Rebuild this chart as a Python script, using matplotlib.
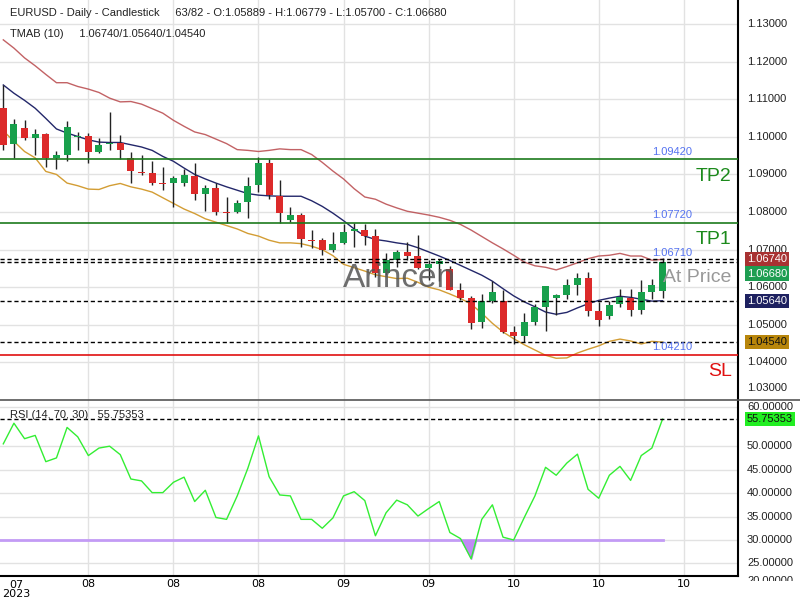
import matplotlib.pyplot as plt
import matplotlib.lines as mlines
import numpy as np

# candles, EURUSD daily
opens = [1.1078, 1.0980, 1.1024, 1.0998, 1.1008, 1.0945, 1.0953, 1.0999, 1.1003, 1.0961,
         1.0980, 1.0983, 1.0944, 1.0907, 1.0905, 1.0876, 1.0876, 1.0876, 1.0897, 1.0847,
         1.0865, 1.0799, 1.0800, 1.0826, 1.0871, 1.0931, 1.0843, 1.0778, 1.0793, 1.0725,
         1.0725, 1.0699, 1.0717, 1.0749, 1.0753, 1.0735, 1.0638, 1.0673, 1.0693, 1.0682,
         1.0650, 1.0662, 1.0649, 1.0593, 1.0570, 1.0507, 1.0563, 1.0564, 1.0480, 1.0471,
         1.0508, 1.0548, 1.0570, 1.0578, 1.0605, 1.0624, 1.0536, 1.0524, 1.0555, 1.0571,
         1.0540, 1.0588, 1.05889]
highs = [1.1138, 1.1048, 1.1045, 1.1021, 1.1010, 1.0963, 1.1043, 1.1014, 1.1010, 1.0997,
         1.1067, 1.1006, 1.0960, 1.0953, 1.0937, 1.0921, 1.0895, 1.0914, 1.0931, 1.0872,
         1.0878, 1.0841, 1.0831, 1.0894, 1.0946, 1.0941, 1.0884, 1.0813, 1.0798, 1.0751,
         1.0731, 1.0746, 1.0769, 1.0771, 1.0767, 1.0755, 1.0692, 1.0700, 1.0720, 1.0738,
         1.0672, 1.0676, 1.0656, 1.0610, 1.0576, 1.0581, 1.0616, 1.0592, 1.0496, 1.0532,
         1.0555, 1.0602, 1.0581, 1.0621, 1.0637, 1.0640, 1.0561, 1.0563, 1.0596, 1.0595,
         1.0618, 1.0621, 1.06779]
lows = [1.0966, 1.0945, 1.0992, 1.0953, 1.0919, 1.0915, 1.0936, 1.0966, 1.0930, 1.0957,
        1.0966, 1.0941, 1.0876, 1.0898, 1.0871, 1.0858, 1.0813, 1.0868, 1.0833, 1.0802,
        1.0792, 1.0770, 1.0797, 1.0784, 1.0853, 1.0834, 1.0772, 1.0773, 1.0706, 1.0703,
        1.0687, 1.0693, 1.0714, 1.0707, 1.0711, 1.0628, 1.0632, 1.0653, 1.0672, 1.0649,
        1.0618, 1.0617, 1.0593, 1.0565, 1.0489, 1.0491, 1.0557, 1.0479, 1.0449, 1.0455,
        1.0499, 1.0484, 1.0525, 1.0568, 1.0580, 1.0524, 1.0497, 1.0515, 1.0548, 1.0524,
        1.0529, 1.0568, 1.05700]
closes = [1.0979, 1.1035, 1.0998, 1.1008, 1.0945, 1.0952, 1.1027, 1.1003, 1.0961, 1.0979,
          1.0983, 1.0964, 1.0908, 1.0905, 1.0876, 1.0874, 1.0891, 1.0899, 1.0847, 1.0864,
          1.0800, 1.0797, 1.0825, 1.0870, 1.0931, 1.0844, 1.0797, 1.0792, 1.0728, 1.0723,
          1.0700, 1.0715, 1.0748, 1.0754, 1.0736, 1.0638, 1.0673, 1.0693, 1.0683, 1.0650,
          1.0661, 1.0670, 1.0593, 1.0570, 1.0505, 1.0563, 1.0586, 1.0481, 1.0471, 1.0507,
          1.0547, 1.0602, 1.0578, 1.0605, 1.0624, 1.0536, 1.0513, 1.0554, 1.0575, 1.0540,
          1.0586, 1.0605, 1.06680]

# TMA bands (10)
tma_upper = [1.1258, 1.1236, 1.1210, 1.1189, 1.1166, 1.1144, 1.1144, 1.1134, 1.1127, 1.1118,
             1.1103, 1.1093, 1.1094, 1.1087, 1.1075, 1.1063, 1.1044, 1.1028, 1.1013, 1.1006,
             1.0994, 1.0982, 1.0966, 1.0964, 1.0961, 1.0964, 1.0968, 1.0966, 1.0966, 1.0953,
             1.0932, 1.0909, 1.0888, 1.0862, 1.0840, 1.0834, 1.0821, 1.0811, 1.0802, 1.0797,
             1.0792, 1.0786, 1.0778, 1.0767, 1.0752, 1.0735, 1.0718, 1.0702, 1.0685, 1.0667,
             1.0657, 1.0653, 1.0646, 1.0655, 1.0665, 1.0676, 1.0683, 1.0685, 1.0690, 1.0683,
             1.0683, 1.0672, 1.0674]
tma_mid = [1.1138, 1.1116, 1.1097, 1.1076, 1.1049, 1.1021, 1.1010, 1.1001, 1.0992, 1.0986,
           1.0985, 1.0985, 1.0979, 1.0973, 1.0964, 1.0948, 1.0935, 1.0917, 1.0900, 1.0888,
           1.0877, 1.0867, 1.0858, 1.0849, 1.0845, 1.0843, 1.0842, 1.0842, 1.0842, 1.0830,
           1.0815, 1.0797, 1.0777, 1.0755, 1.0736, 1.0727, 1.0723, 1.0718, 1.0714, 1.0705,
           1.0694, 1.0683, 1.0671, 1.0658, 1.0645, 1.0632, 1.0616, 1.0596, 1.0577, 1.0561,
           1.0548, 1.0534, 1.0528, 1.0533, 1.0545, 1.0556, 1.0565, 1.0571, 1.0576, 1.0573,
           1.0568, 1.0563, 1.0564]
tma_lower = [1.1016, 1.0988, 1.0961, 1.0944, 1.0908, 1.0900, 1.0877, 1.0870, 1.0861, 1.0860,
             1.0870, 1.0876, 1.0867, 1.0861, 1.0853, 1.0838, 1.0823, 1.0808, 1.0796, 1.0782,
             1.0773, 1.0764, 1.0755, 1.0743, 1.0736, 1.0725, 1.0718, 1.0718, 1.0716, 1.0709,
             1.0700, 1.0684, 1.0661, 1.0652, 1.0643, 1.0633, 1.0628, 1.0623, 1.0624, 1.0613,
             1.0600, 1.0593, 1.0582, 1.0570, 1.0555, 1.0531, 1.0504, 1.0481, 1.0463, 1.0447,
             1.0433, 1.0419, 1.0411, 1.0412, 1.0425, 1.0435, 1.0444, 1.0456, 1.0462, 1.0457,
             1.0449, 1.0456, 1.0454]

rsi = [50.5, 54.9, 51.6, 52.3, 46.7, 47.5, 54.0, 52.0, 48.0, 49.6,
       50.0, 48.2, 43.0, 42.6, 40.1, 40.1, 42.3, 43.4, 38.2, 40.6,
       34.8, 34.4, 39.4, 45.3, 52.2, 43.5, 39.6, 39.4, 34.4, 34.4,
       32.5, 34.7, 39.4, 40.3, 38.4, 30.9, 35.8, 38.5, 37.5, 35.1,
       36.7, 38.2, 31.6, 30.3, 26.0, 34.4, 37.5, 30.6, 30.0, 34.8,
       39.4, 45.5, 43.8, 46.4, 48.3, 40.8, 38.9, 43.8, 45.7, 42.7,
       48.0, 49.6, 55.75353]

tick_pos = [8, 16, 24, 32, 40, 48, 56, 64]
tick_labels = ["08", "08", "08", "09", "09", "10", "10", "10"]
price_ticks = [1.04, 1.05, 1.06, 1.07, 1.08, 1.09, 1.10, 1.11, 1.12, 1.13]
rsi_ticks = [25, 30, 35, 40, 45, 50]

levels = {"TP2": 1.0942, "TP1": 1.0772, "At Price": 1.0671, "SL": 1.0421}

plt.rcParams['font.family'] = ['Liberation Sans', 'DejaVu Sans']

W, H = 800, 600
fig = plt.figure(figsize=(8, 6), dpi=100)
ax = fig.add_axes([0, 1 - 400 / H, 738 / W, 400 / H])
ax2 = fig.add_axes([0, 1 - 576 / H, 738 / W, 176 / H])

x = np.arange(len(closes))
xmin, xmax = -0.31, 69.1
GRID = '#e2e2e2'
GREEN = '#18a04c'
RED = '#dc2a2a'

# main panel
ax.set_xlim(xmin, xmax)
ax.set_ylim(1.0300, 1.1364)
for p in price_ticks:
    ax.axhline(p, color=GRID, lw=1, zorder=0)
for t in tick_pos:
    ax.axvline(t, color=GRID, lw=1, zorder=0)

o = np.array(opens); c = np.array(closes)
up = c >= o
ax.vlines(x, lows, highs, color='#222222', lw=1, zorder=3)
body = np.maximum(np.abs(c - o), 0.00025)
ax.bar(x, body, bottom=np.minimum(o, c), width=0.66,
       color=np.where(up, GREEN, RED), zorder=4)

ax.plot(x, tma_upper, color='#b8474a', lw=1, alpha=0.85, zorder=2)
ax.plot(x, tma_mid, color='#23276a', lw=1, zorder=2)
ax.plot(x, tma_lower, color='#d39d34', lw=1, zorder=2)

for v in [1.0674, 1.0668, 1.0564, 1.0454]:
    ax.axhline(v, color='black', lw=1, ls=(0, (3, 2)), zorder=5)

ax.axhline(levels["TP2"], color='#1c7a1c', lw=1.2, zorder=5)
ax.axhline(levels["TP1"], color='#1c7a1c', lw=1.2, zorder=5)
ax.axhline(levels["SL"], color='#e01010', lw=1.2, zorder=5)

for name, v in levels.items():
    ax.text(62.9, v + 0.0019, f"{v:.5f}", color='#5573f0', fontsize=8,
            ha='center', va='center', zorder=6)
ax.text(68.5, levels["TP2"] - 0.0047, "TP2", color='#1c8a1c', fontsize=14,
        ha='right', va='center', zorder=6)
ax.text(68.5, levels["TP1"] - 0.0044, "TP1", color='#1c8a1c', fontsize=14,
        ha='right', va='center', zorder=6)
ax.text(68.5, levels["At Price"] - 0.0045, "At Price", color='#999999', fontsize=14,
        ha='right', va='center', zorder=6)
ax.text(68.5, levels["SL"] - 0.0046, "SL", color='#e01010', fontsize=14,
        ha='right', va='center', zorder=6)

ax.text(37.3, 1.0624, "Arincen", color='#555555', alpha=0.85, fontsize=24,
        ha='center', va='center', zorder=7)

# price axis labels
ytr = ax.get_yaxis_transform()
lx = 747 / 738
for p in price_ticks:
    ax.text(lx, p, f"{p:.5f}", transform=ytr, fontsize=8, color='#222222',
            ha='left', va='center', clip_on=False)
ax.text(lx, 1.0332, "1.03000", transform=ytr, fontsize=8, color='#222222',
        ha='left', va='center', clip_on=False)

boxes = [(1.0675, "1.06740", '#a83232', 'white'),
         (1.0636, "1.06680", '#1e9e52', 'white'),
         (1.0564, "1.05640", '#1e2160', 'white'),
         (1.0454, "1.04540", '#b8860b', '#111111')]
for v, s, bg, fg in boxes:
    ax.text(lx, v, s, transform=ytr, fontsize=8, color=fg, ha='left', va='center',
            clip_on=False, zorder=10,
            bbox=dict(boxstyle='square,pad=0.2', fc=bg, ec='none'))

for s in ax.spines.values():
    s.set_visible(False)
ax.spines['right'].set_visible(True)
ax.spines['right'].set_color('black')
ax.spines['right'].set_linewidth(1.5)
ax.set_xticks([]); ax.set_yticks([])

fig.text(10 / W, 1 - 13 / H,
         "EURUSD - Daily - Candlestick     63/82 - O:1.05889 - H:1.06779 - L:1.05700 - C:1.06680",
         fontsize=8, color='#222222', va='center', ha='left')
fig.text(10 / W, 1 - 34 / H, "TMAB (10)     1.06740/1.05640/1.04540",
         fontsize=8, color='#222222', va='center', ha='left')

# RSI panel
ax2.set_xlim(xmin, xmax)
ax2.set_ylim(22.32, 59.85)
for rv in rsi_ticks + [58.3]:
    ax2.axhline(rv, color=GRID, lw=1, zorder=0)
for t in tick_pos:
    ax2.axvline(t, color=GRID, lw=1, zorder=0)

r = np.array(rsi)
ax2.plot([xmin, x[-1]], [30, 30], color='#c39bf5', lw=2, zorder=2)
ax2.fill_between(x, r, 30, where=r < 30, interpolate=True, color='#c08af5', zorder=2)
ax2.plot(x, r, color='#33ee33', lw=1, zorder=3)
ax2.axhline(rsi[-1], color='black', lw=1, ls=(0, (3, 2)), zorder=4)

fig.text(10 / W, 1 - 415 / H, "RSI (14, 70, 30)   55.75353", fontsize=8,
         color='#222222', va='center', ha='left')

ytr2 = ax2.get_yaxis_transform()
for rv in rsi_ticks:
    ax2.text(lx, rv, f"{rv:.5f}", transform=ytr2, fontsize=8, color='#222222',
             ha='left', va='center', clip_on=False)
ax2.text(lx, 58.3, "60.00000", transform=ytr2, fontsize=8, color='#222222',
         ha='left', va='center', clip_on=False)
ax2.text(lx, 55.75353, "55.75353", transform=ytr2, fontsize=8, color='#111111',
         ha='left', va='center', clip_on=False, zorder=10,
         bbox=dict(boxstyle='square,pad=0.2', fc='#22ee22', ec='none'))

for s in ax2.spines.values():
    s.set_visible(False)
ax2.spines['right'].set_visible(True)
ax2.spines['bottom'].set_visible(True)
for k in ['right', 'bottom']:
    ax2.spines[k].set_color('black')
    ax2.spines[k].set_linewidth(1.5)
ax2.set_yticks([])
ax2.set_xticks(tick_pos)
ax2.set_xticklabels(tick_labels, fontsize=8, family=['Liberation Sans Narrow', 'DejaVu Sans'])
ax2.tick_params(axis='x', length=0, pad=2)
ax2.text(1.2, -0.02, "07\n2023", transform=ax2.get_xaxis_transform(), fontsize=8,
         family=['Liberation Sans Narrow', 'DejaVu Sans'], ha='center', va='top',
         linespacing=0.95, clip_on=False)

# 20.00000 label clipped by figure bottom edge
fig.text(lx * 738 / W, 1 - 581 / H, "20.00000", fontsize=8, color='#222222', va='center', ha='left')
fig.patches.append(plt.Rectangle((740 / W, 0), 60 / W, 19.5 / H, transform=fig.transFigure,
                                 fc='white', ec='none', zorder=20))

fig.add_artist(mlines.Line2D([0, 1], [1 - 400 / H, 1 - 400 / H], color='#555555', lw=1.2))

fig.savefig("out.png", dpi=100)
